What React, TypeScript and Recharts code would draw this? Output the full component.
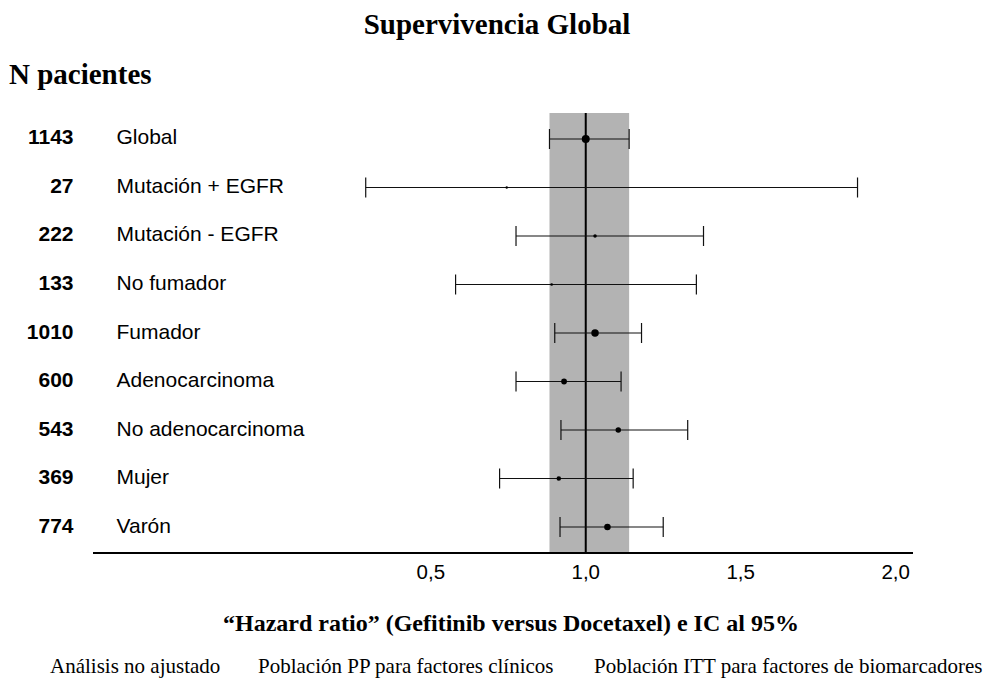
import { ScatterChart, Scatter, XAxis, YAxis, ErrorBar, ReferenceArea, ReferenceLine } from 'recharts';

// subgroup rows, top to bottom
const subgroups = ['Global', 'Mutación + EGFR', 'Mutación - EGFR', 'No fumador', 'Fumador', 'Adenocarcinoma', 'No adenocarcinoma', 'Mujer', 'Varón'];
const patients = [1143, 27, 222, 133, 1010, 600, 543, 369, 774];
const hazardRatio = [1.0, 0.745, 1.03, 0.89, 1.03, 0.93, 1.105, 0.913, 1.07];
const ciLower = [0.883, 0.29, 0.775, 0.58, 0.9, 0.775, 0.92, 0.722, 0.917];
const ciUpper = [1.14, 1.877, 1.38, 1.357, 1.18, 1.114, 1.329, 1.153, 1.25];
const xTicks = [0.5, 1.0, 1.5, 2.0];
const notes = ['Análisis no ajustado', 'Población PP para factores clínicos', 'Población ITT para factores de biomarcadores'];

const SERIF = '"Liberation Serif", "Times New Roman", serif';
const SANS = '"Liberation Sans", Arial, sans-serif';

const rows = subgroups.map((name, i) => ({
  row: i,
  name,
  n: patients[i],
  hr: hazardRatio[i],
  err: [hazardRatio[i] - ciLower[i], ciUpper[i] - hazardRatio[i]],
}));

// marker size grows with number of patients
const Dot = (props: any) => {
  const { cx, cy, payload } = props;
  const r = Math.max(1.2, Math.sqrt(payload.n) / 8.5);
  return <circle cx={cx} cy={cy} r={r} fill="#000" />;
};

const RowTick = (props: any) => {
  const { y, payload } = props;
  const i = payload.value;
  return (
    <g>
      <text x={73.5} y={y + 5.5} textAnchor="end" fontFamily={SANS} fontWeight="bold" fontSize={21} fill="#000">
        {patients[i]}
      </text>
      <text x={116.5} y={y + 5.5} textAnchor="start" fontFamily={SANS} fontSize={21} fill="#000">
        {subgroups[i]}
      </text>
    </g>
  );
};

const HrTick = (props: any) => {
  const { x, payload } = props;
  return (
    <text x={x} y={579} textAnchor="middle" fontFamily={SANS} fontSize={20.5} fill="#000">
      {payload.value.toFixed(1).replace('.', ',')}
    </text>
  );
};

export default function App() {
  return (
    <div style={{ position: 'absolute', left: 0, top: 0, width: 990, height: 681, background: '#fff' }}>
      <ScatterChart width={990} height={681} margin={{ top: 113, right: 77, bottom: 98, left: 0 }}>
        <XAxis
          type="number"
          dataKey="hr"
          domain={[-0.59, 2.056]}
          ticks={xTicks}
          allowDataOverflow
          height={30}
          axisLine={{ stroke: '#000', strokeWidth: 2 }}
          tickLine={false}
          tick={<HrTick />}
        />
        <YAxis
          type="number"
          dataKey="row"
          domain={[-0.536, 8.536]}
          reversed
          ticks={rows.map((r) => r.row)}
          width={93}
          allowDataOverflow
          axisLine={false}
          tickLine={false}
          tick={<RowTick />}
        />
        <ReferenceArea x1={ciLower[0]} x2={ciUpper[0]} fill="#b3b3b3" fillOpacity={1} stroke="none" />
        <ReferenceLine x={1} stroke="#000" strokeWidth={2} />
        <Scatter data={rows} shape={<Dot />} isAnimationActive={false}>
          <ErrorBar dataKey="err" direction="x" width={10} stroke="#111" strokeWidth={1.2} />
        </Scatter>
      </ScatterChart>
      <svg width={990} height={681} style={{ position: 'absolute', left: 0, top: 0, pointerEvents: 'none' }}>
        <text x={497} y={34} textAnchor="middle" fontFamily={SERIF} fontWeight="bold" fontSize={29} fill="#000">
          Supervivencia Global
        </text>
        <text x={9} y={84} fontFamily={SERIF} fontWeight="bold" fontSize={29} fill="#000">
          N pacientes
        </text>
        <text x={511} y={631} textAnchor="middle" fontFamily={SERIF} fontWeight="bold" fontSize={24} fill="#000">
          “Hazard ratio” (Gefitinib versus Docetaxel) e IC al 95%
        </text>
        <text x={50} y={673} fontFamily={SERIF} fontSize={21} fill="#000">{notes[0]}</text>
        <text x={258} y={673} fontFamily={SERIF} fontSize={21} fill="#000">{notes[1]}</text>
        <text x={594} y={673} fontFamily={SERIF} fontSize={21} fill="#000">{notes[2]}</text>
      </svg>
    </div>
  );
}
